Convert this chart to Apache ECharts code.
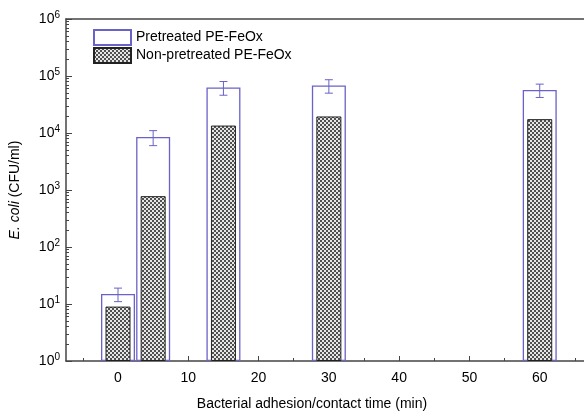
<!DOCTYPE html>
<html><head><meta charset="utf-8">
<script src="https://cdn.jsdelivr.net/npm/echarts@6/dist/echarts.min.js"></script>
<style>html,body{margin:0;padding:0;background:#fff}#c{width:584px;height:416px}</style>
</head><body><div id="c"></div>
<script>
// ---- data ----
const times = [0, 5, 15, 30, 60];
const pretreated = [15, 8500, 63000, 68000, 57000];
const pretreatedErr = [4, 2500, 17000, 18000, 15000];
const nonPretreated = [9, 780, 13500, 19500, 17500];
const xTickLabels = [0, 10, 20, 30, 40, 50, 60];
const xMinorTicks = [-5, 5, 15, 25, 35, 45, 55, 65];
const yMinorMultipliers = [2, 3, 4, 5, 6, 7, 8, 9];
const yDecades = [0, 1, 2, 3, 4, 5];

const purple = '#6a62c8';
const axisColor = '#444';
const font = '"Liberation Sans", Arial, sans-serif';
const xMin = -7.4, xMax = 66.3;

// checker pattern
const pc = document.createElement('canvas');
pc.width = 4; pc.height = 4;
const g = pc.getContext('2d');
g.fillStyle = '#e6e6e6'; g.fillRect(0, 0, 4, 4);
g.fillStyle = '#505050'; g.fillRect(0, 0, 2, 2); g.fillRect(2, 2, 2, 2);

const yMinorVals = [];
yDecades.forEach(k => yMinorMultipliers.forEach(m => yMinorVals.push(k + Math.log10(m))));

const chart = echarts.init(document.getElementById('c'), null, {renderer: 'canvas'});
chart.setOption({
  animation: false,
  textStyle: {fontFamily: font},
  grid: {left: 66, right: 0, top: 19, bottom: 53, containLabel: false, show: false},
  legend: {
    orient: 'vertical', left: 88, top: 24, itemGap: 1, itemWidth: 37, itemHeight: 15,
    icon: 'rect',
    textStyle: {fontSize: 14, color: '#000', fontFamily: font},
    data: ['Pretreated PE-FeOx', 'Non-pretreated PE-FeOx']
  },
  xAxis: [{
    type: 'value', min: xMin, max: xMax,
    name: 'Bacterial adhesion/contact time (min)', nameLocation: 'middle', nameGap: 36,
    nameTextStyle: {fontSize: 14, color: '#000', fontFamily: font, padding: [0, 26, 0, 0]},
    axisLine: {onZero: false, lineStyle: {color: axisColor, width: 1.5}},
    axisTick: {customValues: xTickLabels, inside: true, length: 5, lineStyle: {color: axisColor}},
    axisLabel: {customValues: xTickLabels, fontSize: 14, color: '#000', margin: 10, fontFamily: font},
    splitLine: {show: false}
  }, {
    type: 'value', min: xMin, max: xMax, position: 'bottom',
    axisLine: {show: false, onZero: false},
    axisTick: {customValues: xMinorTicks, inside: true, length: 3, lineStyle: {color: axisColor}},
    axisLabel: {show: false}, splitLine: {show: false}
  }, {
    type: 'value', min: xMin, max: xMax, position: 'top',
    axisLine: {show: true, onZero: false, lineStyle: {color: axisColor, width: 1.5}},
    axisTick: {show: false}, axisLabel: {show: false}, splitLine: {show: false}
  }],
  yAxis: [{
    type: 'log', min: 1, max: 1e6, interval: 1, logBase: 10,
    name: '{i|E. coli} (CFU/ml)', nameLocation: 'middle', nameGap: 44,
    nameTextStyle: {fontSize: 14, color: '#000', fontFamily: font,
      rich: {i: {fontStyle: 'italic', fontSize: 14, color: '#000', fontFamily: font}}},
    axisLine: {show: true, onZero: false, lineStyle: {color: axisColor, width: 1.5}},
    axisTick: {inside: true, length: 6, lineStyle: {color: axisColor}},
    axisLabel: {
      margin: 6, color: '#000',
      formatter: v => '{b|10}{s|' + Math.round(Math.log10(v)) + '}',
      rich: {b: {fontSize: 14, color: '#000', fontFamily: font},
             s: {fontSize: 10, color: '#000', fontFamily: font, padding: [0, 0, 8, 0]}}
    },
    splitLine: {show: false}
  }, {
    type: 'value', min: 0, max: 6, position: 'left',
    axisLine: {show: false, onZero: false},
    axisTick: {customValues: yMinorVals, inside: true, length: 3, lineStyle: {color: axisColor}},
    axisLabel: {show: false}, splitLine: {show: false}
  }],
  series: [{
    name: 'Pretreated PE-FeOx', type: 'bar', xAxisIndex: 0, yAxisIndex: 0,
    barWidth: 34, z: 2,
    itemStyle: {color: '#fff', borderColor: purple, borderWidth: 1.3},
    data: times.map((t, i) => [t, pretreated[i]])
  }, {
    name: 'Non-pretreated PE-FeOx', type: 'bar', xAxisIndex: 1, yAxisIndex: 0,
    barWidth: 25, z: 3,
    itemStyle: {color: {image: pc, repeat: 'repeat'}, borderColor: '#222', borderWidth: 1},
    data: times.map((t, i) => [t, nonPretreated[i]])
  }, {
    type: 'custom', xAxisIndex: 0, yAxisIndex: 0, z: 4, silent: true,
    renderItem: (params, api) => {
      const x = api.value(0);
      const p1 = api.coord([x, api.value(2)]);
      const p2 = api.coord([x, api.value(1)]);
      const w = 4;
      const st = {stroke: purple, lineWidth: 1};
      return {type: 'group', children: [
        {type: 'line', shape: {x1: p1[0], y1: p1[1], x2: p2[0], y2: p2[1]}, style: st},
        {type: 'line', shape: {x1: p1[0] - w, y1: p1[1], x2: p1[0] + w, y2: p1[1]}, style: st},
        {type: 'line', shape: {x1: p2[0] - w, y1: p2[1], x2: p2[0] + w, y2: p2[1]}, style: st}
      ]};
    },
    data: times.map((t, i) => [t, pretreated[i] - pretreatedErr[i], pretreated[i] + pretreatedErr[i]])
  }]
});
</script></body></html>
